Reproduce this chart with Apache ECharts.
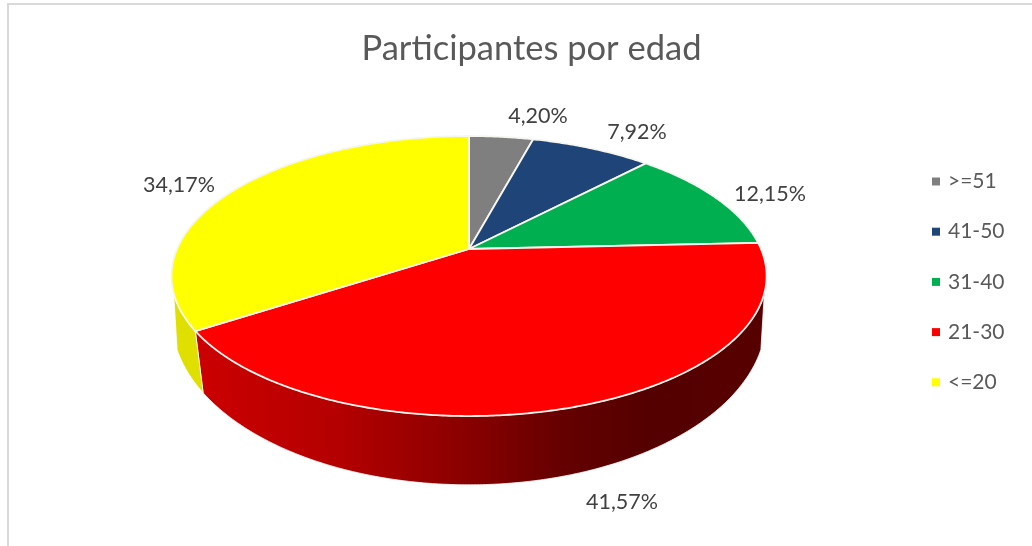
<!DOCTYPE html>
<html>
<head>
<meta charset="utf-8">
<title>Participantes por edad</title>
<style>html,body{margin:0;padding:0;background:#fff}#c{width:1032px;height:546px}</style>
<script src="https://cdn.jsdelivr.net/npm/echarts@6/dist/echarts.min.js"></script>
</head>
<body>
<div id="c"></div>
<script>
// Age groups, in clockwise order starting from twelve o'clock
const categories = ['>=51', '41-50', '31-40', '21-30', '<=20'];
const shares = [4.20, 7.92, 12.15, 41.57, 34.17];
const sliceColors = ['#7f7f7f', '#1f4477', '#00b050', '#ff0000', '#ffff00'];

// Projection of the disc: the top face and the bottom face of the cylinder
const topFace = { cx: 469, cy: 249, a: 292, b: 134.8, k: -0.193 };
const bottomFace = { cx: 469, cy: 297, a: 294.6, b: 163.4, k: -0.13 };
// Part of the side wall facing the viewer, in degrees clockwise from the top
const wallRange = [108, 252];
const wallFills = {
  '21-30': {
    type: 'linear', x: 197, y: 0, x2: 766, y2: 0, global: true,
    colorStops: [
      { offset: 0, color: '#cc0000' }, { offset: 0.25, color: '#b40000' },
      { offset: 0.48, color: '#880000' }, { offset: 0.65, color: '#640000' },
      { offset: 0.8, color: '#540000' }, { offset: 1, color: '#580000' }
    ]
  },
  '<=20': '#dfdf00'
};
// Anchor of each percentage label
const labelSpots = [[538, 116], [637, 132], [770, 194], [622, 502], [179, 185]];
const FONT = 'Lato, Carlito, "Open Sans", sans-serif';

const total = shares.reduce((s, v) => s + v, 0);

function project(face, deg) {
  const t = deg * Math.PI / 180, u = Math.sin(t), v = -Math.cos(t), w = 1 + face.k * v;
  return [face.cx + face.a * u / w, face.cy + face.b * v / w];
}
function arc(face, from, to) {
  const n = Math.max(2, Math.ceil(Math.abs(to - from) * 2)), pts = [];
  for (let i = 0; i <= n; i++) pts.push(project(face, from + (to - from) * i / n));
  return pts;
}
function percentText(v) {
  return v.toFixed(2).replace('.', ',') + '%';
}

const series = categories.map((name, i) => {
  const before = shares.slice(0, i).reduce((s, v) => s + v, 0);
  return {
    type: 'custom',
    name,
    coordinateSystem: 'none',
    itemStyle: { color: sliceColors[i] },
    data: [shares[i]],
    silent: true,
    renderItem(params, api) {
      const start = before / total * 360;
      const end = start + api.value(0) / total * 360;
      const children = [];
      const wallFrom = Math.max(start, wallRange[0]);
      const wallTo = Math.min(end, wallRange[1]);
      if (wallTo > wallFrom) {
        children.push({
          type: 'polygon', z2: 1,
          shape: { points: arc(topFace, wallFrom, wallTo).concat(arc(bottomFace, wallTo, wallFrom)) },
          style: { fill: wallFills[name] || sliceColors[i], stroke: '#fff', lineWidth: 0.8 }
        });
      }
      children.push({
        type: 'polygon', z2: 2,
        shape: { points: [[topFace.cx, topFace.cy]].concat(arc(topFace, start, end)) },
        style: { fill: sliceColors[i], stroke: '#f6f6f0', lineWidth: 1.8, lineJoin: 'round' }
      });
      children.push({
        type: 'text', z2: 3,
        style: {
          text: percentText(api.value(0)),
          x: labelSpots[i][0], y: labelSpots[i][1],
          align: 'center', verticalAlign: 'middle',
          fill: '#404040', fontSize: 21.5, fontFamily: FONT
        }
      });
      return { type: 'group', children };
    }
  };
});

const chart = echarts.init(document.getElementById('c'), null, { renderer: 'canvas' });
chart.setOption({
  animation: false,
  backgroundColor: '#ffffff',
  title: {
    text: 'Participantes por edad',
    left: 526.5, top: 26, textAlign: 'center',
    textStyle: { color: '#595959', fontSize: 34.5, fontWeight: 'normal', fontFamily: FONT }
  },
  legend: {
    orient: 'vertical', left: 927, top: 166,
    icon: 'rect', itemWidth: 8, itemHeight: 8, itemGap: 29.2,
    selectedMode: false,
    textStyle: { color: '#595959', fontSize: 21, fontFamily: FONT, padding: [0, 0, 0, 3] },
    data: categories
  },
  // Chart-area outline, whose right and bottom edges run past the page
  graphic: [{
    type: 'rect', silent: true, z: -1,
    shape: { x: 8, y: 4, width: 1200, height: 700 },
    style: { fill: 'none', stroke: '#d9d9d9', lineWidth: 2 }
  }],
  series
});
</script>
</body>
</html>
